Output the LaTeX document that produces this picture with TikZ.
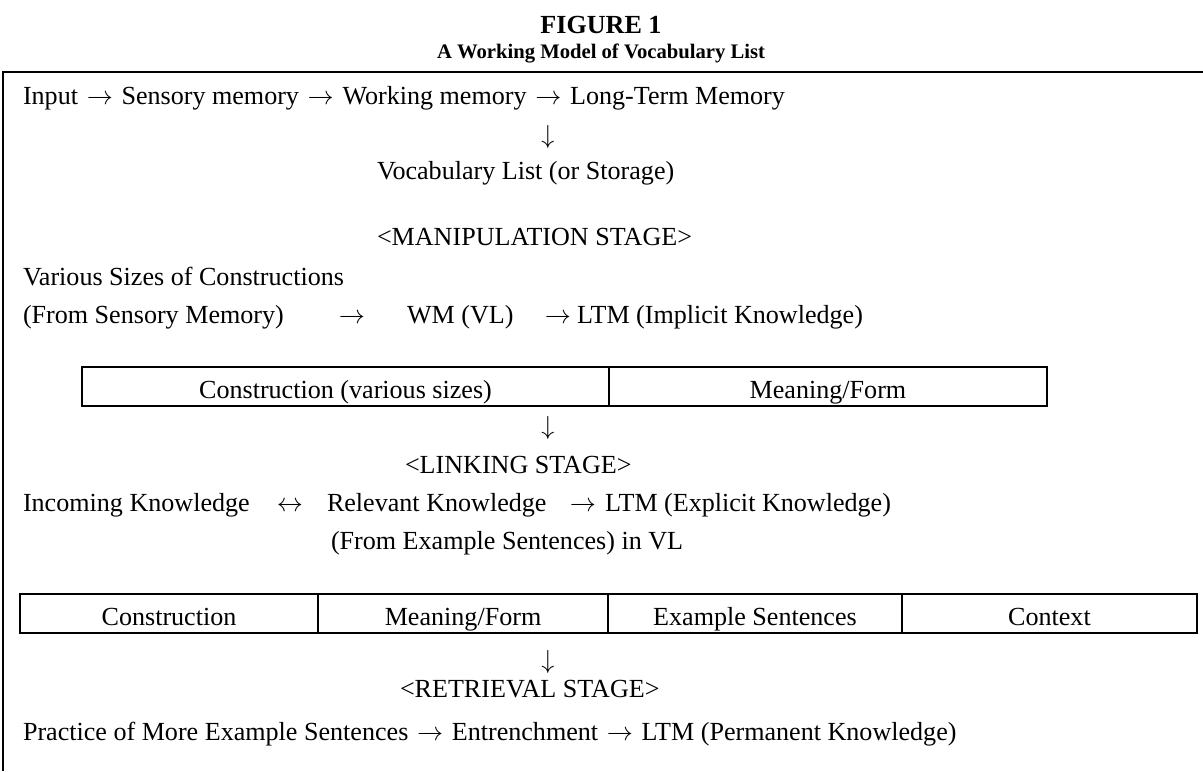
\documentclass[tikz,border=0pt]{standalone}
\usepackage{fontspec}
\setmainfont{Liberation Serif}
\usetikzlibrary{positioning}

\newcommand{\bodyfont}{\fontsize{12}{14}\selectfont}
\newcommand{\goes}{\kern1pt$\rightarrow$\kern1pt}

\begin{document}
\begin{tikzpicture}[x=0.46pt,y=-0.46pt,inner sep=0pt,outer sep=0pt,font=\bodyfont]
	\tikzstyle{row}=[anchor=base west]
	\tikzstyle{mid}=[anchor=base]
	\tikzstyle{cell}=[draw,line width=1pt,minimum height=17.9pt,text height=11pt,text depth=0.4pt,anchor=west]
	\useasboundingbox (0,0) rectangle (1203,771);

	% heading
	\node[mid,font=\fontsize{12}{14}\selectfont\bfseries] (fig) at (601,33) {FIGURE 1};
	\node[mid,font=\fontsize{9.5}{11}\selectfont\bfseries] (title) at (601,58) {A Working Model of Vocabulary List};

	% frame
	\coordinate (top right) at (1203,72);
	\coordinate (corner) at (3,72);
	\coordinate (bottom left) at (3,771);
	\draw[line width=1.2pt] (bottom left) -- (corner) -- (top right);

	\node[row] (input) at (23,104) {Input \goes{} Sensory memory \goes{} Working memory \goes{} Long-Term Memory};
	\node (down1) at (548,137) {$\downarrow$};
	\node[row] (vl) at (377,179) {Vocabulary List (or Storage)};

	% manipulation
	\node[row] (manip) at (377,245) {<MANIPULATION STAGE>};
	\node[row] (sizes) at (23,285) {Various Sizes of Constructions};
	\node[row] (sensory) at (23,323) {(From Sensory Memory)};
	\node[mid] (to1) at (352,323) {$\rightarrow$};
	\node[row] (wm) at (407,323) {WM (VL)};
	\node[mid] (to2) at (558,323) {$\rightarrow$};
	\node[row] (implicit) at (577,323) {LTM (Implicit Knowledge)};

	\node[cell,minimum width=242.4pt] (cons) at (82,386.5) {Construction (various sizes)};
	\node[cell,minimum width=201.5pt,right=0pt of cons] (meaning) {Meaning/Form};
	\node (down2) at (548,428) {$\downarrow$};

	% linking
	\node[row] (linking) at (405,473) {<LINKING STAGE>};
	\node[row] (incoming) at (23,511) {Incoming Knowledge};
	\node[mid] (both) at (290,511) {$\leftrightarrow$};
	\node[row] (relevant) at (327,511) {Relevant Knowledge};
	\node[mid] (to3) at (583,511) {$\rightarrow$};
	\node[row] (explicit) at (605,511) {LTM (Explicit Knowledge)};
	\node[row] (examples) at (331,549) {(From Example Sentences) in VL};

	\node[cell,minimum width=137.1pt] (cons2) at (20,613.5) {Construction};
	\node[cell,minimum width=133.4pt,right=0pt of cons2] (meaning2) {Meaning/Form};
	\node[cell,minimum width=135.2pt,right=0pt of meaning2] (sentences) {Example Sentences};
	\node[cell,minimum width=135.7pt,right=0pt of sentences] (context) {Context};
	\node (down3) at (548,662) {$\downarrow$};

	% retrieval
	\node[row] (retrieval) at (400,697) {<RETRIEVAL STAGE>};
	\node[row] (practice) at (23,740) {Practice of More Example Sentences \goes{} Entrenchment \goes{} LTM (Permanent Knowledge)};
\end{tikzpicture}
\end{document}
